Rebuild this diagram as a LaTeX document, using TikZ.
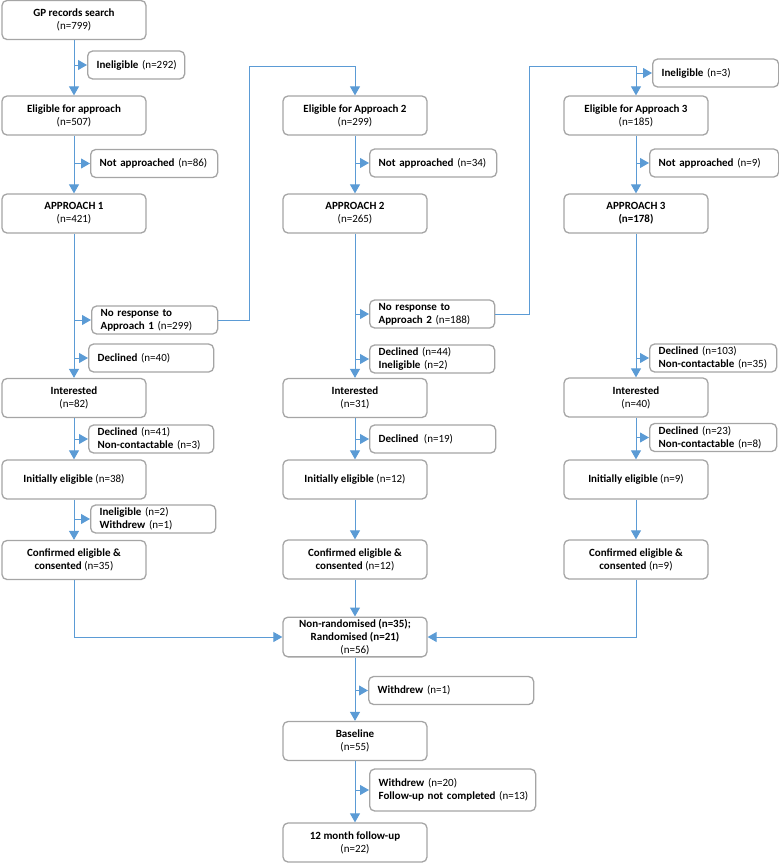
\documentclass[tikz,border=0pt]{standalone}
\usepackage{fontspec}
\setmainfont{Carlito}
\usetikzlibrary{arrows.meta}
\definecolor{flowblue}{HTML}{5B9BD5}
\definecolor{boxgray}{HTML}{A5A5A5}
\newcommand{\oneln}[1]{\mbox{#1}}
\tikzset{
  mainbox/.style={draw=boxgray, line width=1.3pt, rounded corners=5pt, fill=white,
    minimum width=144pt, minimum height=39pt, align=center, inner sep=2pt,
    font=\fontsize{11}{13}\selectfont},
  sidebox/.style={draw=boxgray, line width=1.3pt, rounded corners=5pt, fill=white,
    anchor=west, align=left, inner xsep=9pt, inner ysep=2pt, text width=#1,
    minimum height=28pt, font=\fontsize{11}{13}\selectfont},
  flow/.style={draw=flowblue, line width=1pt, -{Triangle[length=9pt,width=10pt]}},
}
\begin{document}
\begin{tikzpicture}[x=1pt,y=-1pt]
\useasboundingbox (0,0) rectangle (779,863);
% column 1
\node[mainbox] (gp) at (74,20) {\textbf{GP records search}\\(n=799)};
\node[mainbox] (e1) at (74,115.5) {\textbf{Eligible for approach}\\(n=507)};
\node[mainbox] (a1) at (74,213.5) {\textbf{APPROACH 1}\\(n=421)};
\node[mainbox] (i1) at (74,398) {\textbf{Interested}\\(n=82)};
\node[mainbox] (ie1) at (74,479.5) {\textbf{Initially eligible} (n=38)};
\node[mainbox] (c1) at (74,560) {\textbf{Confirmed eligible \&}\\\textbf{consented} (n=35)};
\node[sidebox=79pt] (s1) at (87,65) {\oneln{\textbf{Ineligible} (n=292)}};
\node[sidebox=109pt] (s2) at (90,163.5) {\oneln{\textbf{Not approached} (n=86)}};
\node[sidebox=108pt] (s3) at (91,320) {\oneln{\textbf{No response to}}\\\oneln{\textbf{Approach 1} (n=299)}};
\node[sidebox=107pt] (s4) at (88,358) {\oneln{\textbf{Declined} (n=40)}};
\node[sidebox=107pt] (s5) at (88,439) {\oneln{\textbf{Declined} (n=41)}\\\oneln{\textbf{Non-contactable} (n=3)}};
\node[sidebox=107pt] (s6) at (90,519) {\oneln{\textbf{Ineligible} (n=2)}\\\oneln{\textbf{Withdrew} (n=1)}};
% column 2
\node[mainbox] (e2) at (355,115.5) {\textbf{Eligible for Approach 2}\\(n=299)};
\node[mainbox] (a2) at (355,213.5) {\textbf{APPROACH 2}\\(n=265)};
\node[mainbox] (i2) at (355,398) {\textbf{Interested}\\(n=31)};
\node[mainbox] (ie2) at (355,479.5) {\textbf{Initially eligible} (n=12)};
\node[mainbox] (c2) at (355,559.5) {\textbf{Confirmed eligible \&}\\\textbf{consented} (n=12)};
\node[sidebox=109pt] (t2) at (369,163) {\oneln{\textbf{Not approached} (n=34)}};
\node[sidebox=107pt] (t3) at (369,314) {\oneln{\textbf{No response to}}\\\oneln{\textbf{Approach 2} (n=188)}};
\node[sidebox=107pt] (t4) at (369,359) {\oneln{\textbf{Declined} (n=44)}\\\oneln{\textbf{Ineligible} (n=2)}};
\node[sidebox=108pt] (t5) at (369,439) {\oneln{\textbf{Declined}\enspace(n=19)}};
% column 3
\node[mainbox] (e3) at (636,115.5) {\textbf{Eligible for Approach 3}\\(n=185)};
\node[mainbox] (a3) at (636,213.5) {\textbf{APPROACH 3}\\\textbf{(n=178)}};
\node[mainbox] (i3) at (636,397.5) {\textbf{Interested}\\(n=40)};
\node[mainbox] (ie3) at (636,479.5) {\textbf{Initially eligible} (n=9)};
\node[mainbox] (c3) at (636,559.5) {\textbf{Confirmed eligible \&}\\\textbf{consented} (n=9)};
\node[sidebox=108pt] (u1) at (652,73) {\oneln{\textbf{Ineligible} (n=3)}};
\node[sidebox=111pt] (u2) at (649,163) {\oneln{\textbf{Not approached} (n=9)}};
\node[sidebox=109pt] (u4) at (649,358) {\oneln{\textbf{Declined} (n=103)}\\\oneln{\textbf{Non-contactable} (n=35)}};
\node[sidebox=109pt] (u5) at (649,437.5) {\oneln{\textbf{Declined} (n=23)}\\\oneln{\textbf{Non-contactable} (n=8)}};
% bottom
\node[mainbox] (nr) at (355,637) {\textbf{Non-randomised (n=35);}\\\textbf{Randomised (n=21)}\\(n=56)};
\node[mainbox] (bl) at (355,741) {\textbf{Baseline}\\(n=55)};
\node[mainbox] (fu) at (355,842.5) {\textbf{12 month follow-up}\\(n=22)};
\node[sidebox=147pt] (w1) at (368,690.5) {\oneln{\textbf{Withdrew} (n=1)}};
\node[sidebox=148pt, minimum height=42pt] (w2) at (369,790) {\oneln{\textbf{Withdrew} (n=20)}\\\oneln{\textbf{Follow-up not completed} (n=13)}};
% coordinates for loops
\coordinate (k1) at (249,66);
\coordinate (k2) at (529,66);
% column 1 connectors
\draw[flow] (gp.south) -- (e1.north);
\draw[flow] (gp.south |- s1.west) -- (s1.west);
\draw[flow] (e1.south) -- (a1.north);
\draw[flow] (e1.south |- s2.west) -- (s2.west);
\draw[flow] (a1.south) -- (i1.north);
\draw[flow] (a1.south |- s3.west) -- (s3.west);
\draw[flow] (a1.south |- s4.west) -- (s4.west);
\draw[flow] (i1.south) -- (ie1.north);
\draw[flow] (i1.south |- s5.west) -- (s5.west);
\draw[flow] (ie1.south) -- (c1.north);
\draw[flow] (ie1.south |- s6.west) -- (s6.west);
% loop to column 2
\draw[flow] (s3.east) -| (k1) -| (e2.north);
% column 2 connectors
\draw[flow] (e2.south) -- (a2.north);
\draw[flow] (e2.south |- t2.west) -- (t2.west);
\draw[flow] (a2.south) -- (i2.north);
\draw[flow] (a2.south |- t3.west) -- (t3.west);
\draw[flow] (a2.south |- t4.west) -- (t4.west);
\draw[flow] (i2.south) -- (ie2.north);
\draw[flow] (i2.south |- t5.west) -- (t5.west);
\draw[flow] (ie2.south) -- (c2.north);
% loop to column 3
\draw[flow] (t3.east) -| (k2) -| (e3.north);
\draw[flow] (e3.north |- u1.west) -- (u1.west);
% column 3 connectors
\draw[flow] (e3.south) -- (a3.north);
\draw[flow] (e3.south |- u2.west) -- (u2.west);
\draw[flow] (a3.south) -- (i3.north);
\draw[flow] (a3.south |- u4.west) -- (u4.west);
\draw[flow] (i3.south) -- (ie3.north);
\draw[flow] (i3.south |- u5.west) -- (u5.west);
\draw[flow] (ie3.south) -- (c3.north);
% merges
\draw[flow] (c1.south) |- (nr.west);
\draw[flow] (c3.south) |- (nr.east);
\draw[flow] (c2.south) -- (nr.north);
\draw[flow] (nr.south) -- (bl.north);
\draw[flow] (nr.south |- w1.west) -- (w1.west);
\draw[flow] (bl.south) -- (fu.north);
\draw[flow] (bl.south |- w2.west) -- (w2.west);
\end{tikzpicture}
\end{document}
